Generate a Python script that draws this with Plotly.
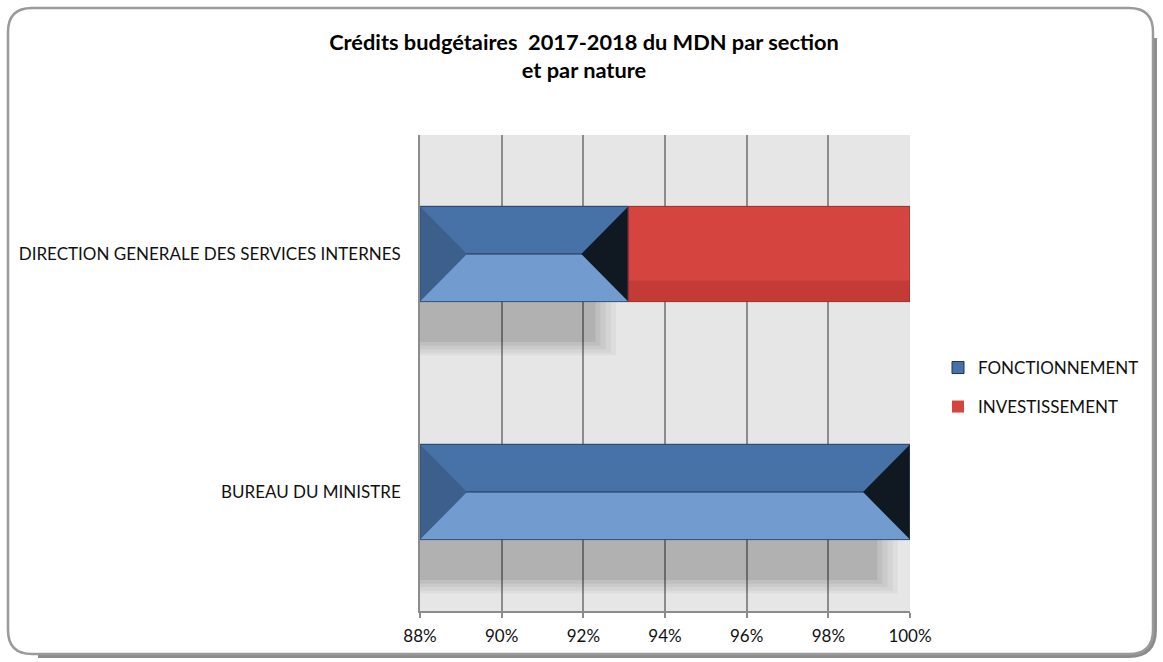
import plotly.graph_objects as go

# ---------------- data ----------------
categories = ["BUREAU DU MINISTRE", "DIRECTION GENERALE DES SERVICES INTERNES"]
fonctionnement = [100.0, 93.1]
investissement = [0.0, 6.9]
series_names = ["FONCTIONNEMENT", "INVESTISSEMENT"]
x_ticks = [88, 90, 92, 94, 96, 98, 100]
x_tick_labels = [f"{t}%" for t in x_ticks]
title_lines = ["Crédits budgétaires \u00a02017-2018 du MDN par section", "et par nature"]

# ---------------- layout constants ----------------
W, H = 1163, 662
ML, MR, MT, MB = 420, 253, 135, 51
PW, PH = W - ML - MR, H - MT - MB
XMIN, XMAX = 88, 100
HALF = 0.2          # half bar thickness (category units)
BEVEL = 1.15        # bevel depth in x units
FONT = "Lato"

pos = list(range(len(categories)))
x_start = max(XMIN, 0)

fig = go.Figure()

# soft drop shadows under the blue bars (layered for a blurred edge)
for dx, dy, a in [(0.30, 0.225, 0.035), (0.42, 0.215, 0.04), (0.55, 0.20, 0.045),
                  (0.68, 0.185, 0.05), (0.80, 0.17, 0.07)]:
    fig.add_trace(go.Bar(
        y=pos, x=[v - dx for v in fonctionnement], base=0, orientation="h",
        width=dy, offset=-HALF - dy,
        marker=dict(color=f"rgba(0,0,0,{a})", line_width=0),
        showlegend=False, hoverinfo="skip"))

# blue bar: light lower half (full bar) + dark upper half
fig.add_trace(go.Bar(
    y=pos, x=fonctionnement, base=0, orientation="h", width=2 * HALF, offset=-HALF,
    marker=dict(color="#729cd0", line_width=0), showlegend=False, hoverinfo="skip"))
fig.add_trace(go.Bar(
    y=pos, x=fonctionnement, base=0, orientation="h", width=HALF, offset=0,
    name=series_names[0], legend="legend",
    marker=dict(color="#4672a7", line=dict(color="#1e3350", width=1))))

# red bar: darker base with a lighter upper layer
fig.add_trace(go.Bar(
    y=pos, x=investissement, base=fonctionnement, orientation="h",
    width=2 * HALF, offset=-HALF, showlegend=False, hoverinfo="skip",
    marker=dict(color="#c43a36", line_width=0)))
fig.add_trace(go.Bar(
    y=pos, x=investissement, base=fonctionnement, orientation="h",
    width=2 * HALF * 0.78, offset=HALF - 2 * HALF * 0.78,
    name=series_names[1], legend="legend2",
    marker=dict(color="#d5443f", line_width=0)))

# bevel facets on the blue bar
lx, ly, rx, ry = [], [], [], []
for p, v in zip(pos, fonctionnement):
    lx += [x_start, x_start + BEVEL, x_start, x_start, None]
    ly += [p + HALF, p, p - HALF, p + HALF, None]
    rx += [v, v - BEVEL, v, v, None]
    ry += [p + HALF, p, p - HALF, p + HALF, None]
fig.add_trace(go.Scatter(x=lx, y=ly, fill="toself", mode="lines", line_width=0,
                         fillcolor="#3d5f8b", showlegend=False, hoverinfo="skip"))
fig.add_trace(go.Scatter(x=rx, y=ry, fill="toself", mode="lines", line_width=0,
                         fillcolor="#101822", showlegend=False, hoverinfo="skip"))

# outlines
ox, oy, qx, qy = [], [], [], []
for p, v, w in zip(pos, fonctionnement, investissement):
    ox += [x_start, v, v, x_start, x_start, None]
    oy += [p - HALF, p - HALF, p + HALF, p + HALF, p - HALF, None]
    if w > 0:
        qx += [v, v + w, v + w, v, v, None]
        qy += [p - HALF, p - HALF, p + HALF, p + HALF, p - HALF, None]
fig.add_trace(go.Scatter(x=ox, y=oy, mode="lines", line=dict(color="#2f4f78", width=1),
                         showlegend=False, hoverinfo="skip"))
fig.add_trace(go.Scatter(x=qx, y=qy, mode="lines", line=dict(color="#9a2d2a", width=1),
                         showlegend=False, hoverinfo="skip"))

# ---------------- frame (rounded border with shadow) ----------------
def fx(px):
    return (px - ML) / PW

def fy(py):
    return (H - MB - py) / PH

def pt(px, py):
    return f"{fx(px):.5f},{fy(py):.5f}"

x0, y0, x1, y1, r = 8, 8, 1153, 654, 24
frame = (f"M{pt(x0 + r, y0)} L{pt(x1 - r, y0)} Q{pt(x1, y0)} {pt(x1, y0 + r)} "
         f"L{pt(x1, y1 - r)} Q{pt(x1, y1)} {pt(x1 - r, y1)} L{pt(x0 + r, y1)} "
         f"Q{pt(x0, y1)} {pt(x0, y1 - r)} L{pt(x0, y0 + r)} Q{pt(x0, y0)} {pt(x0 + r, y0)} Z")
s = 2.2
shadow = (f"M{pt(x1 + s, y0 + r + 6)} L{pt(x1 + s, y1 - r)} Q{pt(x1 + s, y1 + s)} {pt(x1 - r, y1 + s)} "
          f"L{pt(x0 + r + 6, y1 + s)}")
shapes = [
    dict(type="path", xref="paper", yref="paper", path=shadow,
         line=dict(color="rgba(0,0,0,0.45)", width=3.5), layer="below"),
    dict(type="path", xref="paper", yref="paper", path=frame,
         line=dict(color="#9a9a9a", width=2.5), layer="below"),
]

LEG_X = 938
fig.update_layout(
    width=W, height=H,
    margin=dict(l=ML, r=MR, t=MT, b=MB),
    paper_bgcolor="white", plot_bgcolor="#e6e6e6",
    barmode="overlay",
    font=dict(family=FONT, size=17, color="#111111"),
    title=dict(text="<br>".join(title_lines), x=584 / W, xanchor="center",
               y=1 - 50 / H, yanchor="middle",
               font=dict(family=FONT, size=21.8, color="#000000", weight="bold")),
    xaxis=dict(range=[XMIN, XMAX], tickvals=x_ticks, ticktext=x_tick_labels,
               showgrid=True, gridcolor="#8c8c8c", gridwidth=1.5,
               showline=True, linecolor="#8c8c8c", linewidth=1.5,
               ticks="outside", ticklen=5, tickcolor="#8c8c8c", tickwidth=1.5,
               ticklabelstandoff=4, zeroline=False, fixedrange=True,
               tickfont=dict(size=17, color="#111111")),
    yaxis=dict(range=[-0.5, len(categories) - 0.5], tickvals=pos, ticktext=categories,
               showgrid=False, zeroline=False, showline=True, linecolor="#8c8c8c",
               linewidth=1.5, ticks="", ticklabelstandoff=14, fixedrange=True,
               tickfont=dict(size=17, color="#111111")),
    legend=dict(x=fx(LEG_X), y=fy(368), xanchor="left", yanchor="middle",
                bgcolor="rgba(0,0,0,0)", font=dict(size=17, color="#111111"), itemwidth=30),
    legend2=dict(x=fx(LEG_X), y=fy(407), xanchor="left", yanchor="middle",
                 bgcolor="rgba(0,0,0,0)", font=dict(size=17, color="#111111"), itemwidth=30),
    shapes=shapes,
)

fig.write_html("out.html", config={"displayModeBar": False},
               post_script="document.body.style.margin='0';")
